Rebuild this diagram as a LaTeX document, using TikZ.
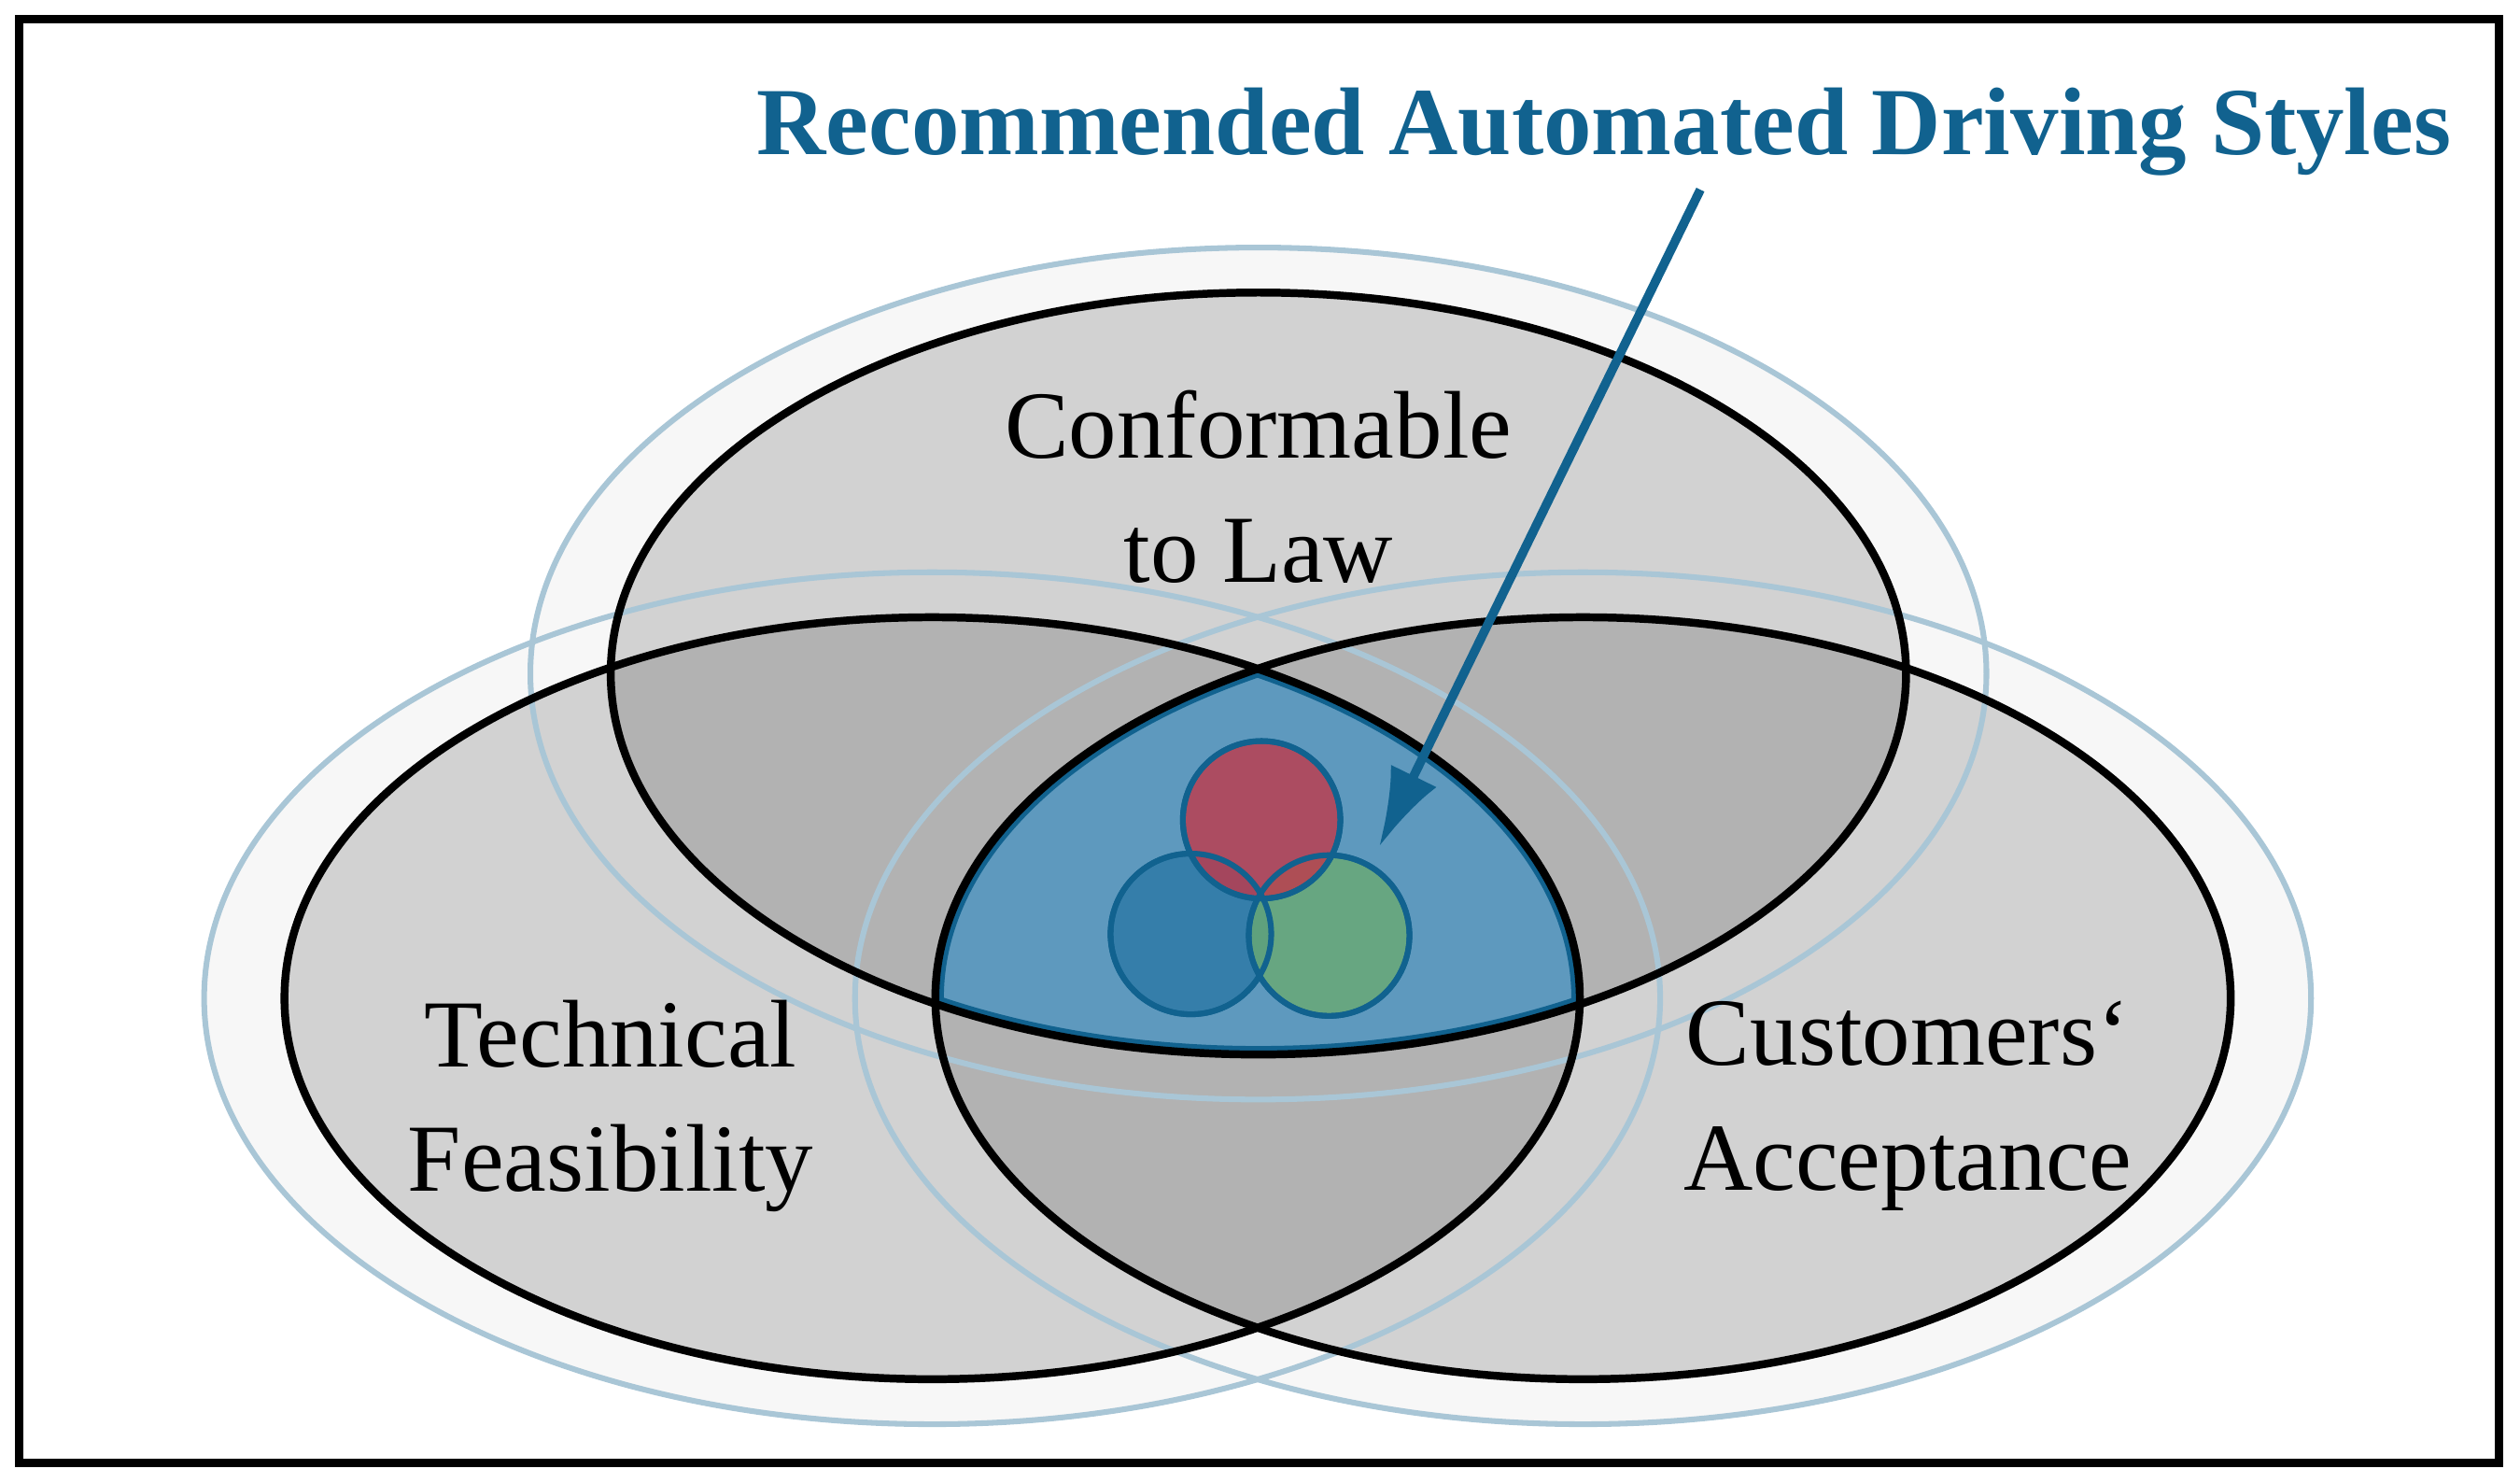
\documentclass[tikz,border=0pt]{standalone}
\usepackage{fontspec}
\setmainfont{Liberation Serif}
\usetikzlibrary{arrows.meta}
\definecolor{titleblue}{HTML}{11628F}
\definecolor{halo}{HTML}{A9C6D6}
\definecolor{lens}{HTML}{5E99BE}
\definecolor{dotred}{HTML}{C0394A}
\definecolor{dotblue}{HTML}{2B78A6}
\definecolor{dotgreen}{HTML}{6AAA72}
\tikzset{
  set/.style={fill=black,fill opacity=0.15},
  setline/.style={draw=black,line width=1.4pt},
  haloring/.style={fill=black!3},
  haloline/.style={draw=halo,line width=1pt},
  label/.style={align=center,font=\fontsize{17}{22}\selectfont},
  dot/.style={draw=titleblue,line width=1pt,fill opacity=0.8}
}
\begin{document}
\begin{tikzpicture}[x=0.01cm,y=-0.01cm]
  \useasboundingbox (0,0) rectangle (1568,922);
  \draw[line width=1.6pt] (12,12) rectangle (1555,910);
  % sets
  \coordinate (law) at (783,419);
  \coordinate (tech) at (580,621);
  \coordinate (cust) at (985,621);
  \foreach \c in {law,tech,cust}
    \fill[haloring] (\c) ellipse [x radius=453,y radius=265];
  \foreach \c in {law,tech,cust}
    \fill[set] (\c) ellipse [x radius=403,y radius=237];
  % recommended region
  \begin{scope}
    \clip (tech) ellipse [x radius=403,y radius=237];
    \clip (cust) ellipse [x radius=403,y radius=237];
    \clip (law) ellipse [x radius=403,y radius=237];
    \fill[lens] (law) ellipse [x radius=403,y radius=237];
    \foreach \c in {law,tech,cust}
      \draw[titleblue,line width=3pt] (\c) ellipse [x radius=403,y radius=237];
  \end{scope}
  \foreach \c in {law,tech,cust}
    \draw[haloline] (\c) ellipse [x radius=453,y radius=265];
  \foreach \c in {law,tech,cust}
    \draw[setline] (\c) ellipse [x radius=403,y radius=237];
  % styles
  \fill[dot,fill=dotblue] (741,581) circle [radius=50];
  \fill[dot,fill=dotgreen] (827,582) circle [radius=50];
  \fill[dot,fill=dotred] (785,510) circle [radius=49];
  \draw[dot] (741,581) circle [radius=50] (827,582) circle [radius=50] (785,510) circle [radius=49];
  % labels
  \node[label] (lawlabel) at (783,303) {Conformable\\to Law};
  \node[label] (techlabel) at (380,688) {Technical\\Feasibility};
  \node[label] (custlabel) at (1187,688) {Customers‘\\Acceptance};
  \node[font=\fontsize{17}{20}\selectfont\bfseries,text=titleblue] (title) at (998,82) {Recommended Automated Driving Styles};
  \coordinate (tip) at (858,527);
  \draw[-{Latex[length=14pt,width=9pt]},titleblue,line width=1.6pt] (1058,118) -- (tip);
\end{tikzpicture}
\end{document}
